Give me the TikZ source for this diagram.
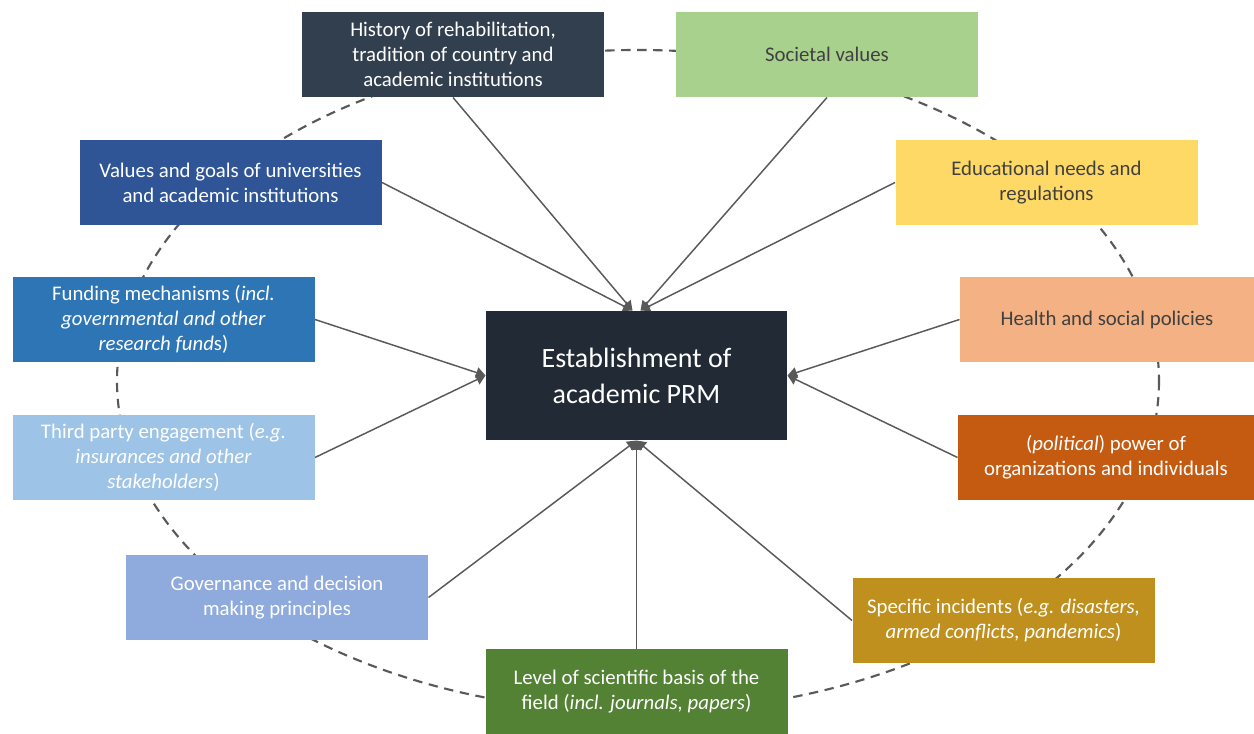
\documentclass[tikz,border=0pt]{standalone}
\usepackage{fontspec}
\setmainfont{Carlito}
\usetikzlibrary{arrows.meta}

\definecolor{histcol}{RGB}{50,63,79}
\definecolor{soccol}{RGB}{169,209,142}
\definecolor{valscol}{RGB}{47,85,151}
\definecolor{educol}{RGB}{255,217,102}
\definecolor{fundcol}{RGB}{46,117,182}
\definecolor{healthcol}{RGB}{244,177,131}
\definecolor{thirdcol}{RGB}{157,195,230}
\definecolor{polcol}{RGB}{197,90,17}
\definecolor{govcol}{RGB}{143,170,220}
\definecolor{speccol}{RGB}{191,144,30}
\definecolor{levelcol}{RGB}{84,130,53}
\definecolor{prmcol}{RGB}{34,42,53}
\definecolor{darktext}{RGB}{64,64,64}
\definecolor{linkgray}{RGB}{89,89,89}

\tikzset{every picture/.style={line width=0.75pt}}
\tikzset{
  factor/.style={draw=none, minimum width=226.5pt, minimum height=63.75pt, inner sep=2pt,
    align=center, text=white, font=\fontsize{15.6}{18.8}\selectfont},
  lighttext/.style={text=darktext},
  link/.style={draw=linkgray, line width=1.1pt, -{Triangle[width=8pt,length=7pt]}},
  ring/.style={draw=linkgray, line width=1.6pt, dash pattern=on 7pt off 5pt}
}

\begin{document}
\begin{tikzpicture}[x=0.75pt,y=0.75pt,yscale=-1,xscale=1]
        \useasboundingbox (0,0) rectangle (1254,734);

        % Dashed ring
        \draw [ring] (638,381) ellipse [x radius=521, y radius=331];

        % Centre
        \node (prm) at (636.5,375.5) [factor, fill=prmcol, minimum width=225.75pt, minimum height=96.75pt, font=\fontsize{21}{27}\selectfont] {Establishment of\\academic PRM};

        % Factors, left half
        \node (hist) at (453,54.5) [factor, fill=histcol] {History of rehabilitation,\\tradition of country and\\academic institutions};
        \node (vals) at (230.5,182.5) [factor, fill=valscol] {Values and goals of universities\\and academic institutions};
        \node (fund) at (163.5,319.5) [factor, fill=fundcol] {Funding mechanisms (\textit{incl.}\\\textit{governmental and other}\\\textit{research fund}s)};
        \node (third) at (163.5,457.5) [factor, fill=thirdcol] {Third party engagement (\textit{e.g.}\\\textit{insurances and other}\\\textit{stakeholders})};
        \node (gov) at (277,597.5) [factor, fill=govcol] {Governance and decision\\making principles};
        \node (level) at (636.5,691.5) [factor, fill=levelcol] {Level of scientific basis of the\\field (\textit{incl. journals, papers})};

        % Factors, right half
        \node (soc) at (827,54.5) [factor, lighttext, fill=soccol] {Societal values};
        \node (edu) at (1046.5,182.5) [factor, lighttext, fill=educol] {Educational needs and\\regulations};
        \node (health) at (1107,319.5) [factor, lighttext, fill=healthcol, minimum width=220.5pt] {Health and social policies};
        \node (pol) at (1106,457.5) [factor, fill=polcol, minimum width=222pt] {(\textit{political}) power of\\organizations and individuals};
        \node (spec) at (1003.5,620.5) [factor, fill=speccol] {Specific incidents (\textit{e.g. disasters,}\\\textit{armed conflicts, pandemics})};

        % Links
        \draw [link] (hist.south) -- ([xshift=-3pt]prm.north);
        \draw [link] (vals.east) -- ([xshift=-3pt]prm.north);
        \draw [link] (soc.south) -- ([xshift=3pt]prm.north);
        \draw [link] (edu.west) -- ([xshift=3pt]prm.north);
        \draw [link] (fund.east) -- (prm.west);
        \draw [link] (third.east) -- (prm.west);
        \draw [link] (health.west) -- (prm.east);
        \draw [link] (pol.west) -- (prm.east);
        \draw [link] (gov.east) -- (prm.south);
        \draw [link] (level.north) -- (prm.south);
        \draw [link] (spec.west) -- (prm.south);

\end{tikzpicture}
\end{document}
